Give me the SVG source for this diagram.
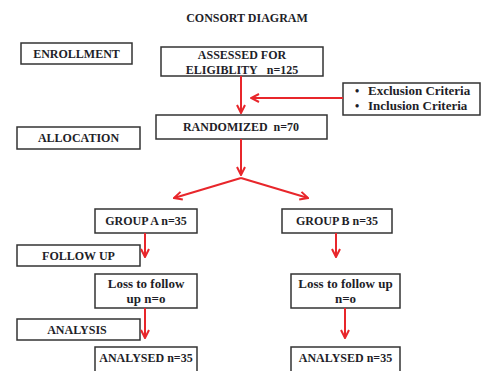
<svg xmlns="http://www.w3.org/2000/svg" width="482" height="371" viewBox="0 0 482 371">
<style>
.b{fill:#fff;stroke:#333;stroke-width:1.5}
.t{font-family:"Liberation Serif","Times New Roman",serif;font-weight:bold;font-size:12px;fill:#1e1e28;text-anchor:middle}
.s{font-size:13px}
.c{fill:none;stroke:#e8262b;stroke-width:2;marker-end:url(#ah)}
</style>
<defs>
<marker id="ah" viewBox="0 0 10 10" refX="9" refY="5" markerWidth="5" markerHeight="5" orient="auto" markerUnits="strokeWidth">
<polyline points="1,1 9,5 1,9" fill="none" stroke="#e8262b" stroke-width="2"/>
</marker>
</defs>
<rect width="482" height="371" fill="#fff"/>
<text class="t" x="247" y="22">CONSORT DIAGRAM</text>
<g id="enrollment"><rect class="b" x="21" y="43" width="111" height="21"/><text class="t" x="76.5" y="58">ENROLLMENT</text></g>
<g id="assessed"><rect class="b" x="161" y="47" width="162" height="29"/><text class="t" x="242" y="59">ASSESSED FOR</text><text class="t" x="242" y="74">ELIGIBLITY&#160;&#160;&#160;n=125</text></g>
<g id="criteria"><rect class="b" x="343" y="83" width="137" height="32"/>
<text class="t" x="357" y="95">•</text><text class="t s" x="368" y="95" style="text-anchor:start">Exclusion Criteria</text>
<text class="t" x="357" y="110">•</text><text class="t s" x="368" y="110" style="text-anchor:start">Inclusion Criteria</text></g>
<g id="allocation"><rect class="b" x="17" y="127" width="123" height="22"/><text class="t" x="78.5" y="142">ALLOCATION</text></g>
<g id="randomized"><rect class="b" x="156" y="115" width="171" height="24"/><text class="t" x="241" y="131">RANDOMIZED&#160;&#160;n=70</text></g>
<g id="groupA"><rect class="b" x="95" y="209" width="102" height="24"/><text class="t" x="146" y="225">GROUP A n=35</text></g>
<g id="groupB"><rect class="b" x="282" y="209" width="110" height="24"/><text class="t" x="337" y="225">GROUP B n=35</text></g>
<g id="followup"><rect class="b" x="17" y="245" width="123" height="21"/><text class="t" x="78.5" y="260">FOLLOW UP</text></g>
<g id="lossA"><rect class="b" x="95" y="274" width="102" height="34"/><text class="t s" x="146" y="288">Loss to follow</text><text class="t s" x="146" y="303">up n=o</text></g>
<g id="lossB"><rect class="b" x="291" y="274" width="109" height="34"/><text class="t s" x="345.5" y="288">Loss to follow up</text><text class="t s" x="345.5" y="303">n=o</text></g>
<g id="analysis"><rect class="b" x="17" y="319" width="123" height="21"/><text class="t" x="77" y="334">ANALYSIS</text></g>
<g id="analysedA"><rect class="b" x="95" y="347" width="102" height="30"/><text class="t" x="146" y="362">ANALYSED n=35</text></g>
<g id="analysedB"><rect class="b" x="291" y="347" width="109" height="30"/><text class="t" x="345.5" y="362">ANALYSED n=35</text></g>
<g id="connectors">
<path class="c" d="M241,76 V113"/>
<path class="c" d="M343,98 H251"/>
<path class="c" d="M241,139 V175"/>
<path class="c" d="M241,178 L174,198"/>
<path class="c" d="M241,178 L308,198"/>
<path class="c" d="M145,233 V257"/>
<path class="c" d="M336,233 V257"/>
<path class="c" d="M145,308 V338"/>
<path class="c" d="M345,308 V338"/>
</g>
</svg>
